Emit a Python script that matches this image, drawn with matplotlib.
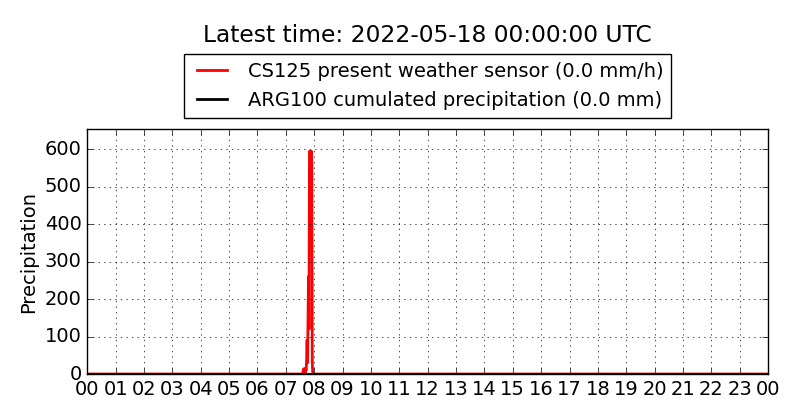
import matplotlib
matplotlib.use('Agg')
import matplotlib.pyplot as plt

plt.style.use('classic')

# minutes since 00:00 UTC
cs125_min = [0, 456, 457, 458, 459, 460, 461, 462, 463, 464, 465, 466, 467,
             468, 469, 470, 471, 472, 473, 474, 475, 476, 477, 478, 1440]
cs125_val = [0, 0, 12, 14, 12, 13, 0, 15, 10, 40, 90, 30, 150,
             260, 120, 594, 590, 594, 580, 594, 560, 30, 0, 0, 0]

arg_min = [0, 1440]
arg_val = [0.0, 0.0]

hour_labels = ['%02d' % h for h in range(24)] + ['00']

fig = plt.figure(figsize=(8, 4.2), dpi=100, facecolor='white')
ax = fig.add_axes([0.109, 0.1095, 0.8512, 0.5833])

ax.plot([m / 60.0 for m in cs125_min], cs125_val, color='red', lw=2,
        label='CS125 present weather sensor (0.0 mm/h)')
ax.plot([m / 60.0 for m in arg_min], arg_val, color='black', lw=2,
        label='ARG100 cumulated precipitation (0.0 mm)')

ax.set_xlim(0, 24)
ax.set_ylim(0, max(cs125_val) * 1.1)
ax.set_xticks(range(25))
ax.set_xticklabels(hour_labels)
ax.set_yticks(range(0, 700, 100))
ax.tick_params(labelsize=14)
ax.grid(True, color='black', linestyle=':')
ax.set_ylabel('Precipitation', fontsize=14)

fig.text(0.5345, 0.915, 'Latest time: 2022-05-18 00:00:00 UTC',
         ha='center', va='center', fontsize=16.8)
leg = fig.legend(loc='lower center', bbox_to_anchor=(0.5345, 0.72),
                 fontsize=14, fancybox=False, handlelength=2.1,
                 borderaxespad=0)

fig.savefig('out.png', dpi=100, facecolor='white')
